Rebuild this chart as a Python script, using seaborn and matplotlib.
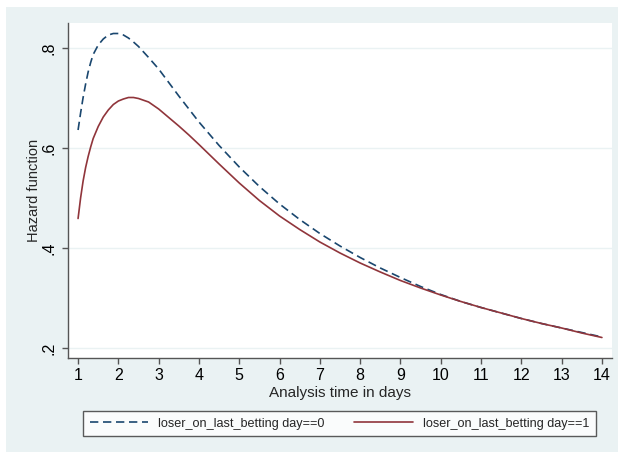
import matplotlib
matplotlib.use("Agg")
import matplotlib.pyplot as plt
import seaborn as sns
import pandas as pd
from matplotlib.patches import Rectangle
from matplotlib.lines import Line2D

# ---- data ----
time_days = [1.0, 1.0625, 1.125, 1.1875, 1.25, 1.3125, 1.375, 1.5, 1.625, 1.75, 1.875, 2.0,
             2.125, 2.25, 2.375, 2.5, 2.75, 3.0, 3.25, 3.5, 3.75, 4.0, 4.5, 5.0, 5.5, 6.0,
             6.5, 7.0, 7.5, 8.0, 8.5, 9.0, 9.5, 10.0, 10.5, 11.0, 11.5, 12.0, 12.5, 13.0,
             13.5, 14.0]
hazard_loser0 = [0.636, 0.670, 0.701, 0.728, 0.752, 0.771, 0.787, 0.806, 0.818, 0.826, 0.829,
                 0.829, 0.826, 0.820, 0.812, 0.803, 0.781, 0.758, 0.731, 0.704, 0.678, 0.652,
                 0.605, 0.562, 0.523, 0.488, 0.457, 0.429, 0.404, 0.381, 0.360, 0.341, 0.323,
                 0.307, 0.293, 0.281, 0.270, 0.259, 0.249, 0.240, 0.231, 0.222]
hazard_loser1 = [0.459, 0.500, 0.534, 0.561, 0.583, 0.602, 0.619, 0.643, 0.662, 0.676, 0.687,
                 0.694, 0.698, 0.701, 0.701, 0.699, 0.692, 0.678, 0.661, 0.644, 0.626, 0.607,
                 0.568, 0.530, 0.495, 0.464, 0.437, 0.412, 0.390, 0.370, 0.352, 0.335, 0.320,
                 0.306, 0.293, 0.281, 0.270, 0.259, 0.249, 0.240, 0.230, 0.221]
labels = ["loser_on_last_betting day==0", "loser_on_last_betting day==1"]
x_ticks = list(range(1, 15))
y_ticks = [0.2, 0.4, 0.6, 0.8]
y_tick_labels = [".2", ".4", ".6", ".8"]

df = pd.DataFrame({
    "time": time_days * 2,
    "hazard": hazard_loser0 + hazard_loser1,
    "group": [labels[0]] * len(time_days) + [labels[1]] * len(time_days),
})

sns.set_style("white")
plt.rcParams["font.family"] = ["Liberation Sans", "DejaVu Sans"]

W, H = 618, 453
fig = plt.figure(figsize=(W / 100, H / 100), dpi=100, facecolor="white")
bg = "#eaf2f3"
fig.patches.append(Rectangle((6 / W, 1 - 452 / H), (618 - 6) / W, (452 - 7) / H,
                             transform=fig.transFigure, facecolor=bg, edgecolor="none", zorder=-10))

left, right, top, bottom = 68, 612, 23, 358
ax = fig.add_axes([left / W, 1 - bottom / H, (right - left) / W, (bottom - top) / H])
ax.set_facecolor("white")

navy, maroon = "#1a476f", "#90353b"
palette = {labels[0]: navy, labels[1]: maroon}
dashes = {labels[0]: (5, 2.8), labels[1]: ""}
sns.lineplot(data=df, x="time", y="hazard", hue="group", style="group",
             palette=palette, dashes=dashes, linewidth=1.2, ax=ax, legend=False)

ax.set_xlim(0.75, 14.25)
ax.set_ylim(0.18, 0.85)
ax.set_xticks(x_ticks)
ax.set_xticklabels([str(t) for t in x_ticks])
ax.set_yticks(y_ticks)
ax.set_yticklabels(y_tick_labels, rotation=90, va="center")
ax.grid(axis="y", color=bg, linewidth=1.0)
ax.set_axisbelow(True)
for s in ["top", "right"]:
    ax.spines[s].set_visible(False)
for s in ["left", "bottom"]:
    ax.spines[s].set_color("#555555")
    ax.spines[s].set_linewidth(1.0)
ax.tick_params(axis="both", direction="out", length=4, width=1.0, color="#555555",
               labelsize=11.5, labelcolor="black", bottom=True, left=True)
ax.tick_params(axis="x", pad=3)
ax.tick_params(axis="y", pad=4)
ax.set_xlabel("Analysis time in days", fontsize=11, labelpad=2)
ax.set_ylabel("Hazard function", fontsize=10.5, labelpad=1)

handles = [Line2D([], [], color=navy, linewidth=1.2, dashes=(5, 2.8)),
           Line2D([], [], color=maroon, linewidth=1.2)]
leg = fig.legend(handles, labels, loc="center", ncol=2, mode="expand",
                 bbox_to_anchor=(83 / W, 1 - 438 / H, (596 - 83) / W, 29 / H),
                 fontsize=9.1, handlelength=4.6, handletextpad=0.8, columnspacing=2.0,
                 frameon=True, fancybox=False, borderaxespad=0, borderpad=0.55)
leg.get_frame().set_edgecolor("#333333")
leg.get_frame().set_linewidth(1.0)
leg.get_frame().set_facecolor("white")

fig.savefig("out.png", dpi=100, facecolor="white")
